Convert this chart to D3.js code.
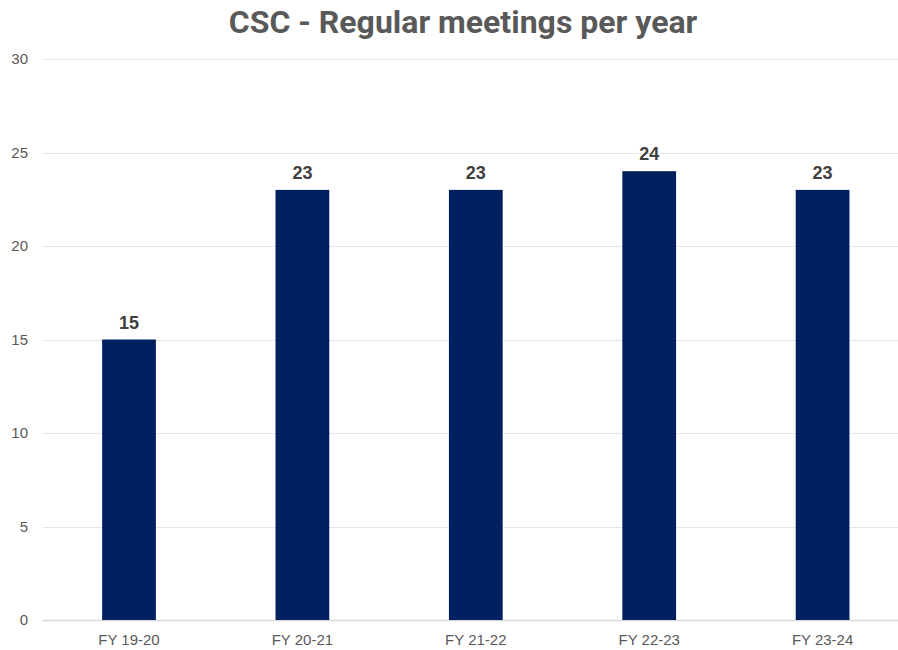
<!DOCTYPE html>
<html>
<head>
<meta charset="utf-8">
<script src="https://cdn.jsdelivr.net/npm/d3@7"></script>
<style>
  body { margin: 0; background: #fff; }
</style>
</head>
<body>
<div id="chart"></div>
<script>
// values
const categories = ["FY 19-20", "FY 20-21", "FY 21-22", "FY 22-23", "FY 23-24"];
const meetings = [15, 23, 23, 24, 23];
const yTicks = [0, 5, 10, 15, 20, 25, 30];

const width = 898
const height = 650

const svg = d3.select("#chart")
  .append("svg")
  .attr("width", width)
  .attr("height", height)

const plotLeft = 42.3, plotRight = 909.3, plotTop = 59, plotBottom = 620

const x = d3.scaleBand()
  .domain(categories)
  .range([plotLeft, plotRight])
  .paddingInner(0.69)
  .paddingOuter(0.345)

const y = d3.scaleLinear()
  .domain([0, 30])
  .range([plotBottom, plotTop])

// title
svg.append("text")
  .attr("x", 463)
  .attr("y", 33)
  .attr("text-anchor", "middle")
  .attr("font-family", "Roboto, sans-serif")
  .attr("font-weight", "bold")
  .attr("font-size", "32px")
  .attr("fill", "#595959")
  .text("CSC - Regular meetings per year")

// gridlines
svg.append("g")
  .selectAll("line")
  .data(yTicks)
  .enter()
  .append("line")
  .attr("x1", plotLeft)
  .attr("x2", width)
  .attr("y1", d => Math.round(y(d)) + 0.5)
  .attr("y2", d => Math.round(y(d)) + 0.5)
  .attr("stroke", d => d === 0 ? "#d9d9d9" : "#e6e6e6")
  .attr("stroke-width", d => d === 0 ? 1.5 : 1)

// y tick labels
svg.append("g")
  .selectAll("text")
  .data(yTicks)
  .enter()
  .append("text")
  .attr("x", 28)
  .attr("y", d => y(d))
  .attr("dy", "0.35em")
  .attr("text-anchor", "end")
  .attr("font-family", "Liberation Sans, Arial, sans-serif")
  .attr("font-size", "15px")
  .attr("fill", "#595959")
  .text(d => d)

// bars
svg.append("g")
  .selectAll("rect")
  .data(meetings)
  .enter()
  .append("rect")
  .attr("x", (d, i) => x(categories[i]))
  .attr("width", x.bandwidth())
  .attr("y", d => y(d))
  .attr("height", d => y(0) - y(d))
  .attr("fill", "#002060")

// value labels
svg.append("g")
  .selectAll("text")
  .data(meetings)
  .enter()
  .append("text")
  .attr("x", (d, i) => x(categories[i]) + x.bandwidth() / 2)
  .attr("y", d => y(d) - 11)
  .attr("text-anchor", "middle")
  .attr("font-family", "Liberation Sans, Arial, sans-serif")
  .attr("font-weight", "bold")
  .attr("font-size", "18px")
  .attr("fill", "#404040")
  .text(d => d)

// x labels
svg.append("g")
  .selectAll("text")
  .data(categories)
  .enter()
  .append("text")
  .attr("x", d => x(d) + x.bandwidth() / 2)
  .attr("y", 645)
  .attr("text-anchor", "middle")
  .attr("font-family", "Liberation Sans, Arial, sans-serif")
  .attr("font-size", "15px")
  .attr("fill", "#595959")
  .text(d => d)
</script>
</body>
</html>
